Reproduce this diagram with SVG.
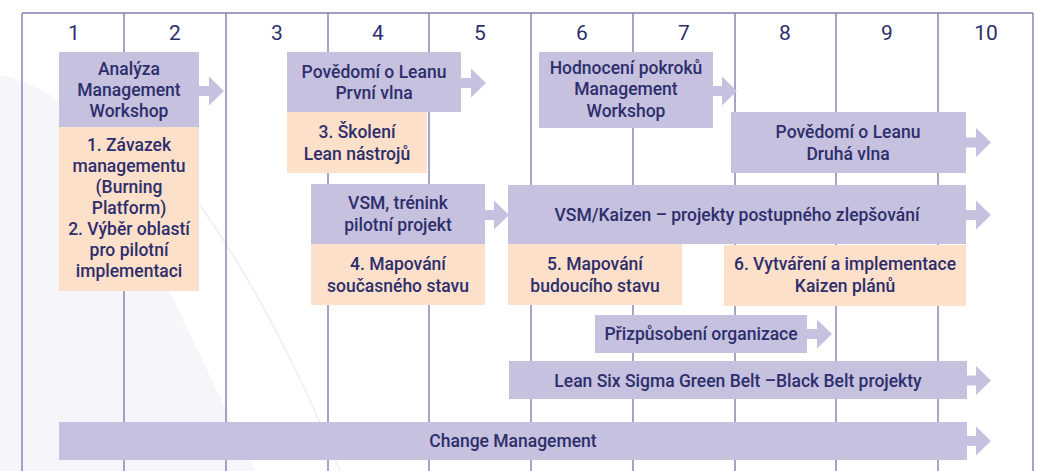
<svg xmlns="http://www.w3.org/2000/svg" width="1038" height="471" viewBox="0 0 1038 471">
<style>
.grid{stroke:#7f7fb2;stroke-width:1.4;fill:none}
.num{font-family:Roboto,"Liberation Sans",sans-serif;font-size:21px;fill:#2e2e6c;text-anchor:middle}
.lbl{font-family:Roboto,"Liberation Sans",sans-serif;font-size:17.5px;font-weight:500;fill:#2e2e6c;text-anchor:middle}
.pur{fill:#c5c1de}
.org{fill:#fce0ca}
.arr{fill:#c5c1de}
</style>
<defs>
<path id="arrow" d="M0,-5 H10 V-14.5 L25,0 L10,14.5 V5 H0 Z"/>
</defs>
<rect x="0" y="0" width="1038" height="471" fill="#ffffff"/>
<g id="watermark">
<path d="M0,75 Q110,100 150,250 L255,471 L0,471 Z" fill="#f6f6fa"/>
<path d="M200,205 Q280,320 340,471" stroke="#f1f1f7" stroke-width="2" fill="none"/>
</g>
<g id="grid">
<path class="grid" d="M22,13 H1033 M22,13 V471 M124,13 V471 M226,13 V471 M328,13 V471 M429,13 V471 M531,13 V471 M633,13 V471 M735,13 V471 M836,13 V471 M938,13 V471 M1033,13 V471"/>
<text class="num" x="74" y="40">1</text>
<text class="num" x="175" y="40">2</text>
<text class="num" x="277" y="40">3</text>
<text class="num" x="378" y="40">4</text>
<text class="num" x="480" y="40">5</text>
<text class="num" x="582" y="40">6</text>
<text class="num" x="684" y="40">7</text>
<text class="num" x="785" y="40">8</text>
<text class="num" x="887" y="40">9</text>
<text class="num" x="986" y="40">10</text>
</g>
<g id="connectors">
<use href="#arrow" class="arr" x="199" y="91"/>
<use href="#arrow" class="arr" x="461" y="83"/>
<use href="#arrow" class="arr" x="484" y="215"/>
<use href="#arrow" class="arr" x="966" y="215"/>
<use href="#arrow" class="arr" x="712" y="91"/>
<use href="#arrow" class="arr" x="966" y="142.5"/>
<use href="#arrow" class="arr" x="807" y="334"/>
<use href="#arrow" class="arr" x="966" y="380.5"/>
<use href="#arrow" class="arr" x="966" y="441"/>
</g>
<g id="analyza">
<rect class="pur" x="59" y="52" width="140" height="75"/>
<text class="lbl" x="129" y="75">Analýza</text>
<text class="lbl" x="129" y="96">Management</text>
<text class="lbl" x="129" y="117">Workshop</text>
</g>
<g id="zavazek">
<rect class="org" x="59" y="127" width="140" height="164"/>
<text class="lbl" x="129" y="151">1. Závazek</text>
<text class="lbl" x="129" y="172">managementu</text>
<text class="lbl" x="129" y="193">(Burning</text>
<text class="lbl" x="129" y="214">Platform)</text>
<text class="lbl" x="129" y="235">2. Výběr oblastí</text>
<text class="lbl" x="129" y="256">pro pilotní</text>
<text class="lbl" x="129" y="277">implementaci</text>
</g>
<g id="povedomi1">
<rect class="pur" x="287" y="52" width="174" height="60"/>
<text class="lbl" x="374" y="78">Povědomí o Leanu</text>
<text class="lbl" x="374" y="99">První vlna</text>
</g>
<g id="skoleni">
<rect class="org" x="287" y="112" width="140" height="61"/>
<text class="lbl" x="357" y="138">3. Školení</text>
<text class="lbl" x="357" y="160">Lean nástrojů</text>
</g>
<g id="vsm-trenink">
<rect class="pur" x="311" y="184" width="174" height="60"/>
<text class="lbl" x="398" y="209">VSM, trénink</text>
<text class="lbl" x="398" y="231">pilotní projekt</text>
</g>
<g id="mapovani4">
<rect class="org" x="311" y="244" width="174" height="61"/>
<text class="lbl" x="398" y="270">4. Mapování</text>
<text class="lbl" x="398" y="292">současného stavu</text>
</g>
<g id="hodnoceni">
<rect class="pur" x="539" y="52" width="174" height="76"/>
<text class="lbl" x="626" y="74">Hodnocení pokroků</text>
<text class="lbl" x="626" y="95">Management</text>
<text class="lbl" x="626" y="117">Workshop</text>
</g>
<g id="povedomi2">
<rect class="pur" x="731" y="112" width="235" height="61"/>
<text class="lbl" x="848" y="138">Povědomí o Leanu</text>
<text class="lbl" x="848" y="160">Druhá vlna</text>
</g>
<g id="vsm-kaizen">
<rect class="pur" x="508" y="185" width="458" height="59"/>
<text class="lbl" x="737" y="221">VSM/Kaizen – projekty postupného zlepšování</text>
</g>
<g id="mapovani5">
<rect class="org" x="508" y="244" width="174" height="61"/>
<text class="lbl" x="595" y="270">5. Mapování</text>
<text class="lbl" x="595" y="292">budoucího stavu</text>
</g>
<g id="vytvareni">
<rect class="org" x="724" y="245" width="242" height="61"/>
<text class="lbl" x="845" y="270">6. Vytváření a implementace</text>
<text class="lbl" x="845" y="292">Kaizen plánů</text>
</g>
<g id="prizpusobeni">
<rect class="pur" x="595" y="315" width="212" height="38"/>
<text class="lbl" x="701" y="340">Přizpůsobení organizace</text>
</g>
<g id="lss">
<rect class="pur" x="509" y="361" width="458" height="38"/>
<text class="lbl" x="738" y="387">Lean Six Sigma Green Belt –Black Belt projekty</text>
</g>
<g id="change">
<rect class="pur" x="59" y="422" width="908" height="38"/>
<text class="lbl" x="513" y="447">Change Management</text>
</g>
</svg>
